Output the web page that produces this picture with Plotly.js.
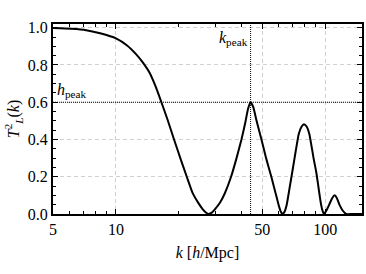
<!DOCTYPE html>
<html>
<head>
<meta charset="utf-8">
<script src="https://cdn.plot.ly/plotly-3.0.1.min.js"></script>
<style>html,body{margin:0;padding:0;background:#fff}#plot{width:366px;height:274px}</style>
</head>
<body>
<div id="plot"></div>
<script>
const kValues = [5, 6.1, 7.2, 8.4, 10, 11.3, 12.5, 13.4, 14.5, 15.4, 16.4, 17.6, 18.95, 20.3, 21.8, 23.2, 24.7, 26, 26.9, 27.7, 28.7, 29.7, 31.4, 33.1, 35.5, 37.7, 39.8, 41.5, 42.8, 44, 45.3, 47, 49.6, 52.2, 55.3, 57.7, 59.7, 61, 62.4, 63.8, 65.5, 67.6, 69.5, 71.4, 74.8, 77.2, 79.2, 81.5, 84, 88, 90.8, 93, 95.3, 97, 98.7, 101.5, 105, 108, 111, 113.8, 117, 121, 126, 135, 150];
const T2Values = [0.998, 0.994, 0.987, 0.97, 0.943, 0.905, 0.857, 0.815, 0.757, 0.69, 0.607, 0.51, 0.40, 0.30, 0.20, 0.115, 0.061, 0.025, 0.008, 0.0, 0.007, 0.025, 0.06, 0.11, 0.20, 0.30, 0.40, 0.49, 0.565, 0.60, 0.575, 0.50, 0.40, 0.30, 0.20, 0.12, 0.055, 0.02, 0.0, 0.01, 0.05, 0.14, 0.22, 0.30, 0.43, 0.47, 0.482, 0.47, 0.43, 0.30, 0.22, 0.14, 0.06, 0.02, 0.0, 0.02, 0.055, 0.085, 0.10, 0.085, 0.05, 0.02, 0.0, 0.0, 0.0];
const kPeak = 44;
const hPeak = 0.6;
const xTickVals = [5, 10, 50, 100];
const xTickText = ['5', '10', '50', '100'];
const xMinorVals = [6, 7, 8, 9, 20, 30, 40, 60, 70, 80, 90];
const yTickVals = [0, 0.2, 0.4, 0.6, 0.8, 1.0];
const yTickText = ['0.0', '0.2', '0.4', '0.6', '0.8', '1.0'];
const xMin = 5, xMax = 150, yMax = 1.02;

const serif = "'Liberation Serif', 'DejaVu Serif', serif";

const traces = [
  {x: [kPeak, kPeak], y: [0, yMax], mode: 'lines', line: {color: 'black', width: 1, dash: '1px,1px'}, hoverinfo: 'skip'},
  {x: [xMin, xMax], y: [hPeak, hPeak], mode: 'lines', line: {color: 'black', width: 1, dash: '1px,1px'}, hoverinfo: 'skip'},
  {x: kValues, y: T2Values, mode: 'lines', line: {color: 'black', width: 2, shape: 'spline', smoothing: 0.5}}
];

const layout = {
  width: 366, height: 274,
  margin: {l: 53, r: 4, t: 24, b: 60},
  paper_bgcolor: 'white', plot_bgcolor: 'white',
  showlegend: false,
  font: {family: serif, size: 16, color: 'black'},
  xaxis: {
    type: 'log', range: [Math.log10(xMin), Math.log10(xMax)],
    tickvals: xTickVals, ticktext: xTickText,
    ticks: 'inside', ticklen: 5, tickwidth: 1, tickcolor: 'black',
    showline: true, linecolor: 'black', linewidth: 2, mirror: 'ticks',
    showgrid: true, gridcolor: '#d0d0d0', griddash: '4px,3px', gridwidth: 1,
    zeroline: false,
    minor: {tickvals: xMinorVals, ticks: 'inside', ticklen: 3, tickcolor: 'black', showgrid: false},
    tickfont: {family: serif, size: 16},
    title: {text: '<i>k</i> [<i>h</i>/Mpc]', font: {family: serif, size: 16}, standoff: 10}
  },
  yaxis: {
    range: [0, yMax],
    tickvals: yTickVals, ticktext: yTickText,
    ticks: 'inside', ticklen: 5, tickwidth: 1, tickcolor: 'black',
    showline: true, linecolor: 'black', linewidth: 2, mirror: 'ticks',
    showgrid: true, gridcolor: '#d0d0d0', griddash: '4px,3px', gridwidth: 1,
    zeroline: false,
    minor: {dtick: 0.05, ticks: 'inside', ticklen: 3, tickcolor: 'black', showgrid: false},
    tickfont: {family: serif, size: 16},
    title: {text: '<i>T</i><sup>2</sup><sub><i>L</i></sub>(<i>k</i>)', font: {family: serif, size: 16}, standoff: 4}
  },
  annotations: [
    {xref: 'paper', yref: 'y', x: 0, y: hPeak, xanchor: 'left', yanchor: 'bottom', xshift: 2, yshift: 0,
     text: '<i>h</i><sub>peak</sub>', showarrow: false, font: {family: serif, size: 16}},
    {xref: 'x', yref: 'paper', x: Math.log10(kPeak), y: 1, xanchor: 'right', yanchor: 'top', xshift: -1, yshift: -3,
     text: '<i>k</i><sub>peak</sub>', showarrow: false, font: {family: serif, size: 16}}
  ]
};

Plotly.newPlot('plot', traces, layout, {displayModeBar: false, staticPlot: true});
</script>
</body>
</html>
